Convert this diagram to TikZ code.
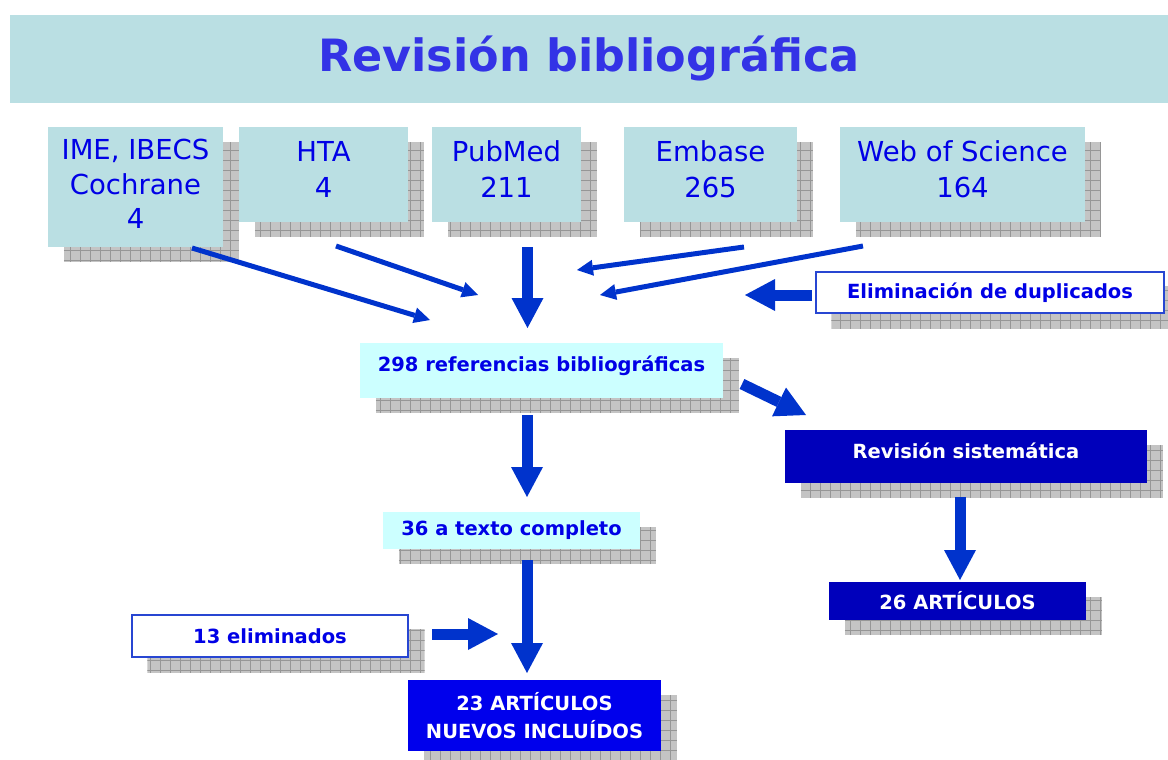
\documentclass[tikz,border=0pt]{standalone}
\usepackage{fontspec}
\setmainfont{DejaVu Sans}
\usetikzlibrary{arrows.meta,calc,backgrounds}
\definecolor{bannerteal}{RGB}{186,223,227}
\definecolor{cyanbox}{RGB}{204,255,255}
\definecolor{titleblue}{RGB}{51,51,230}
\definecolor{txtblue}{RGB}{0,0,230}
\definecolor{arrowblue}{RGB}{0,51,204}
\definecolor{darkbox}{RGB}{0,0,187}
\definecolor{brightbox}{RGB}{0,0,236}
\definecolor{borderblue}{RGB}{40,70,210}
\definecolor{shadowgray}{RGB}{196,196,196}
\definecolor{gridgray}{RGB}{150,150,150}
\newcommand\shadowof[1]{%
  \begin{scope}
    \clip ($(#1.north west)+(16,15)$) rectangle ($(#1.south east)+(16,15)$);
    \fill[shadowgray] ($(#1.north west)+(16,15)$) rectangle ($(#1.south east)+(16,15)$);
    \draw[gridgray,line width=0.8pt,step=10pt] ($(#1.north west)+(16,15)$) grid ($(#1.south east)+(16,15)$);
  \end{scope}}
\tikzset{
  topbox/.style={fill=bannerteal, inner sep=0pt, align=center, text=txtblue,
    font=\fontsize{27.5}{36}\selectfont},
  lbl/.style={inner sep=0pt, align=center, font=\fontsize{19.5}{28}\selectfont\bfseries},
  cyanlbl/.style={lbl, fill=cyanbox, text=txtblue},
  whitelbl/.style={lbl, fill=white, draw=borderblue, line width=1.3pt, text=txtblue},
  darklbl/.style={lbl, fill=darkbox, text=white},
  brightlbl/.style={lbl, fill=brightbox, text=white},
  thinarrow/.style={draw=arrowblue, line width=5pt, -{Triangle[width=16pt,length=16pt,line width=0pt]}},
  blockarrow/.style={draw=arrowblue, line width=11pt, -{Triangle[width=32pt,length=30pt,line width=0pt]}},
}
\begin{document}
\begin{tikzpicture}[x=1pt,y=-1pt]
\useasboundingbox (0,0) rectangle (1168,760);
% banner
\node[fill=bannerteal, minimum width=1158pt, minimum height=88pt, inner sep=0pt,
  text=titleblue, font=\fontsize{44.5}{50}\selectfont\bfseries] (title) at (589,59) {Revisión bibliográfica};
% top boxes
\node[topbox, minimum width=175pt, minimum height=120pt, font=\fontsize{27.5}{34.5}\selectfont, text depth=6pt] (ime) at (135.5,187) {IME, IBECS\\Cochrane\\4};
\node[topbox, minimum width=169pt, minimum height=95pt, text depth=11pt] (hta) at (323.5,174.5) {HTA\\4};
\node[topbox, minimum width=149pt, minimum height=95pt, text depth=11pt] (pub) at (506.5,174.5) {PubMed\\211};
\node[topbox, minimum width=173pt, minimum height=95pt, text depth=11pt] (emb) at (710.5,174.5) {Embase\\265};
\node[topbox, minimum width=245pt, minimum height=95pt, text depth=11pt] (wos) at (962.5,174.5) {Web of Science\\164};
% other boxes
\node[whitelbl, minimum width=348pt, minimum height=41pt] (elim) at (990,292.5) {Eliminación de duplicados};
\node[cyanlbl, minimum width=363pt, minimum height=55pt, text depth=14pt] (refs) at (541.5,370.5) {298 referencias bibliográficas};
\node[darklbl, minimum width=362pt, minimum height=53pt, text depth=12pt] (rs) at (966,456.5) {Revisión sistemática};
\node[darklbl, minimum width=257pt, minimum height=38pt] (a26) at (957.5,601) {26 ARTÍCULOS};
\node[cyanlbl, minimum width=257pt, minimum height=37pt] (t36) at (511.5,530.5) {36 a texto completo};
\node[whitelbl, minimum width=276pt, minimum height=42pt] (e13) at (270,636) {13 eliminados};
\node[brightlbl, minimum width=253pt, minimum height=71pt] (a23) at (534.5,715.5) {23 ARTÍCULOS\\NUEVOS INCLUÍDOS};
% shadows
\begin{scope}[on background layer]
\foreach \n in {ime,hta,pub,emb,wos,elim,refs,rs,a26,t36,e13,a23} {\shadowof{\n}}
\end{scope}
% arrow endpoints
\coordinate (s1) at (192,248); \coordinate (e1) at (430,320);
\coordinate (s2) at (336,246); \coordinate (e2) at (478,295);
\coordinate (s3) at (744,247); \coordinate (e3) at (577,270);
\coordinate (s4) at (863,246); \coordinate (e4) at (600,295);
\coordinate (b1s) at (527.5,247); \coordinate (b1e) at (527.5,328);
\coordinate (bls) at (812,295); \coordinate (ble) at (745,295);
\coordinate (bds) at (742,384); \coordinate (bde) at (806,415);
\coordinate (b2s) at (527,415); \coordinate (b2e) at (527,497);
\coordinate (b3s) at (960,497); \coordinate (b3e) at (960,580);
\coordinate (b4s) at (527,560); \coordinate (b4e) at (527,673);
\coordinate (brs) at (432,634); \coordinate (bre) at (498,634);
\draw[thinarrow] (s1) -- (e1);
\draw[thinarrow] (s2) -- (e2);
\draw[thinarrow] (s3) -- (e3);
\draw[thinarrow] (s4) -- (e4);
\draw[blockarrow] (b1s) -- (b1e);
\draw[blockarrow] (bls) -- (ble);
\draw[blockarrow] (bds) -- (bde);
\draw[blockarrow] (b2s) -- (b2e);
\draw[blockarrow] (b3s) -- (b3e);
\draw[blockarrow] (b4s) -- (b4e);
\draw[blockarrow] (brs) -- (bre);
\end{tikzpicture}
\end{document}
